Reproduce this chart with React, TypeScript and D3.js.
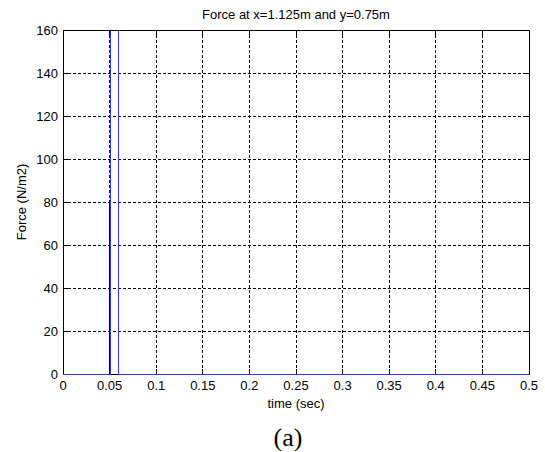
import React from "react";
import * as d3 from "d3";

// Applied pressure pulse (blue) and reference impulse (black)
const pulseTime = [0, 0.051, 0.051, 0.06, 0.06, 0.5];
const pulseForce = [0, 0, 160, 160, 0, 0];
const impulseTime = [0.05, 0.05];
const impulseForce = [0, 80];

const xTicks = [0, 0.05, 0.1, 0.15, 0.2, 0.25, 0.3, 0.35, 0.4, 0.45, 0.5];
const xTickLabels = ["0", "0.05", "0.1", "0.15", "0.2", "0.25", "0.3", "0.35", "0.4", "0.45", "0.5"];
const yTicks = [0, 20, 40, 60, 80, 100, 120, 140, 160];

const W = 545;
const H = 452;
const M = { left: 63, right: 529, top: 30, bottom: 374 };
const FONT = "'Liberation Sans', Arial, sans-serif";

export default function App() {
  const x = d3.scaleLinear().domain([0, 0.5]).range([M.left, M.right]);
  const y = d3.scaleLinear().domain([0, 160]).range([M.bottom, M.top]);

  const line = d3
    .line<[number, number]>()
    .x((d) => x(d[0]))
    .y((d) => y(d[1]));

  const pulse = pulseTime.map((t, i) => [t, pulseForce[i]] as [number, number]);
  const impulse = impulseTime.map((t, i) => [t, impulseForce[i]] as [number, number]);

  const cx = (M.left + M.right) / 2;

  return (
    <svg
      width={W}
      height={H}
      style={{ position: "absolute", left: 0, top: 0, background: "#fff" }}
    >
      <defs>
        <clipPath id="plotArea">
          <rect x={M.left} y={M.top + 1} width={M.right - M.left} height={M.bottom - M.top} />
        </clipPath>
      </defs>

      {/* grid */}
      <g stroke="#000" strokeWidth={1} strokeDasharray="3,2" shapeRendering="crispEdges">
        {xTicks.slice(1, -1).map((t) => (
          <line key={"gx" + t} x1={x(t)} x2={x(t)} y1={M.top} y2={M.bottom} />
        ))}
        {yTicks.slice(1, -1).map((v) => (
          <line key={"gy" + v} x1={M.left} x2={M.right} y1={y(v)} y2={y(v)} />
        ))}
      </g>

      {/* tick marks */}
      <g stroke="#000" strokeWidth={1} shapeRendering="crispEdges">
        {xTicks.map((t) => (
          <g key={"tx" + t}>
            <line x1={x(t)} x2={x(t)} y1={M.bottom} y2={M.bottom - 5} />
            <line x1={x(t)} x2={x(t)} y1={M.top} y2={M.top + 5} />
          </g>
        ))}
        {yTicks.map((v) => (
          <g key={"ty" + v}>
            <line x1={M.left} x2={M.left + 5} y1={y(v)} y2={y(v)} />
            <line x1={M.right} x2={M.right - 5} y1={y(v)} y2={y(v)} />
          </g>
        ))}
      </g>

      {/* axes box */}
      <rect
        x={M.left}
        y={M.top}
        width={M.right - M.left}
        height={M.bottom - M.top}
        fill="none"
        stroke="#000"
        strokeWidth={1}
        shapeRendering="crispEdges"
      />

      {/* series */}
      <g clipPath="url(#plotArea)" fill="none" shapeRendering="crispEdges">
        <path d={line(impulse) ?? ""} stroke="#000" strokeWidth={1} />
        <path d={line(pulse) ?? ""} stroke="#3333ff" strokeWidth={1} />
      </g>

      {/* tick labels */}
      <g fontFamily={FONT} fontSize={13} fill="#000">
        {xTicks.map((t, i) => (
          <text key={"lx" + t} x={x(t)} y={M.bottom + 16} textAnchor="middle">
            {xTickLabels[i]}
          </text>
        ))}
        {yTicks.map((v) => (
          <text key={"ly" + v} x={M.left - 5} y={y(v) + 4.5} textAnchor="end">
            {v}
          </text>
        ))}
      </g>

      {/* titles */}
      <text x={cx} y={19} textAnchor="middle" fontFamily={FONT} fontSize={13}>
        Force at x=1.125m and y=0.75m
      </text>
      <text x={cx} y={408} textAnchor="middle" fontFamily={FONT} fontSize={13}>
        time (sec)
      </text>
      <text
        transform={`translate(26, ${(M.top + M.bottom) / 2}) rotate(-90)`}
        textAnchor="middle"
        fontFamily={FONT}
        fontSize={13}
      >
        Force (N/m2)
      </text>
      <text
        x={288}
        y={446}
        textAnchor="middle"
        fontFamily="'Liberation Serif', 'Times New Roman', serif"
        fontSize={26}
      >
        (a)
      </text>
    </svg>
  );
}
